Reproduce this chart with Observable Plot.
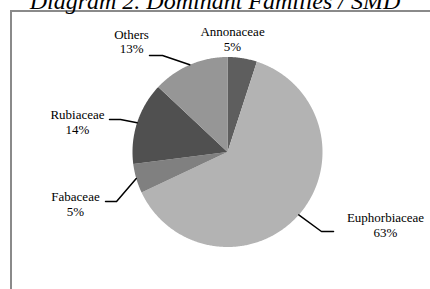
<!DOCTYPE html>
<html>
<head>
<meta charset="utf-8">
<script src="https://cdn.jsdelivr.net/npm/d3@7"></script>
<script src="https://cdn.jsdelivr.net/npm/@observablehq/plot@0.6"></script>
<style>
  html, body { margin: 0; padding: 0; background: #fff; }
  #wrap { position: relative; width: 430px; height: 289px; overflow: hidden; background: #fff; }
  #title { position: absolute; left: 0; width: 430px; top: -12px; text-align: center;
    font-family: "Liberation Serif", "Times New Roman", serif; font-style: italic; font-size: 24px; color: #000; white-space: nowrap; }
  #frame { position: absolute; left: 10px; top: 10px; width: 440px; height: 300px;
    border-left: 2px solid #8a8a8a; border-top: 2px solid #8a8a8a; box-sizing: border-box; }
  #chart { position: absolute; left: 0; top: 0; }
</style>
</head>
<body>
<div id="wrap">
  <div id="frame"></div>
  <div id="title">Diagram 2. Dominant Families / SMD</div>
  <div id="chart"></div>
</div>
<script>
// Data
const families = ["Annonaceae", "Euphorbiaceae", "Fabaceae", "Rubiaceae", "Others"];
const shares = [5, 63, 5, 14, 13];
const colors = ["#5e5e5e", "#b3b3b3", "#808080", "#505050", "#969696"];

// Label layout (data units, radius = 1): elbow and end of leader, label centre
const labelLayout = {
  Annonaceae:    {leader: false, lx: 0.053, ly: 1.193},
  Euphorbiaceae: {leader: true, ex: 0.989, ey: -0.837, tx: 1.116, lx: 1.663, ly: -0.765},
  Fabaceae:      {leader: true, ex: -1.168, ey: -0.521, tx: -1.284, lx: -1.60, ly: -0.549},
  Rubiaceae:     {leader: true, ex: -1.126, ey: 0.342, tx: -1.242, lx: -1.579, ly: 0.319},
  Others:        {leader: true, ex: -0.684, ey: 1.016, tx: -0.821, lx: -1.01, ly: 1.166}
};

const data = families.map((f, i) => ({family: f, value: shares[i], color: colors[i]}));
const pie = d3.pie().value(d => d.value).sort(null)(data);

// Slice polygons
const slicePts = [];
pie.forEach(p => {
  const n = Math.max(2, Math.ceil((p.endAngle - p.startAngle) / 0.01));
  slicePts.push({family: p.data.family, x: 0, y: 0});
  for (let k = 0; k <= n; k++) {
    const a = p.startAngle + (p.endAngle - p.startAngle) * k / n;
    slicePts.push({family: p.data.family, x: Math.sin(a), y: Math.cos(a)});
  }
  slicePts.push({family: p.data.family, x: 0, y: 0});
});

// Leader lines
const leaderPts = [];
pie.forEach(p => {
  const L = labelLayout[p.data.family];
  if (!L.leader) return;
  const m = (p.startAngle + p.endAngle) / 2;
  leaderPts.push({family: p.data.family, x: Math.sin(m), y: Math.cos(m)});
  leaderPts.push({family: p.data.family, x: L.ex, y: L.ey});
  leaderPts.push({family: p.data.family, x: L.tx, y: L.ey});
});

const labels = pie.map(p => ({
  text: p.data.family + "\n" + Math.round(p.data.value) + "%",
  x: labelLayout[p.data.family].lx,
  y: labelLayout[p.data.family].ly
}));

const cx = 227, cy = 151.5, R = 95, W = 430, H = 289;
const chart = Plot.plot({
  width: W, height: H,
  marginLeft: cx - R, marginRight: W - (cx + R),
  marginTop: cy - R, marginBottom: H - (cy + R),
  x: {domain: [-1, 1], axis: null},
  y: {domain: [-1, 1], axis: null},
  color: {domain: families, range: colors},
  style: {background: "transparent", overflow: "visible"},
  marks: [
    Plot.line(slicePts, {x: "x", y: "y", z: "family", fill: "family", stroke: "none", curve: "linear"}),
    Plot.line(leaderPts, {x: "x", y: "y", z: "family", stroke: "#000", strokeWidth: 1.5, curve: "linear"}),
    Plot.text(labels, {x: "x", y: "y", text: "text", fill: "#000", fontSize: 13, lineHeight: 1.15,
      fontFamily: "Liberation Serif, Times New Roman, serif", textAnchor: "middle", lineAnchor: "middle"})
  ]
});
document.getElementById("chart").appendChild(chart);
</script>
</body>
</html>
